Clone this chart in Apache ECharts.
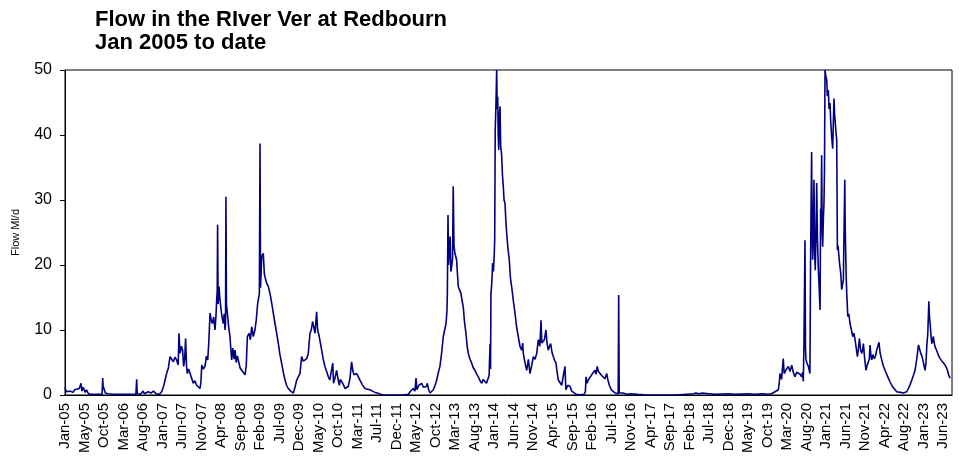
<!DOCTYPE html>
<html>
<head>
<meta charset="utf-8">
<script src="https://cdn.jsdelivr.net/npm/echarts@6/dist/echarts.min.js"></script>
<style>
  html, body { margin: 0; padding: 0; background: #fff; }
  #main { width: 960px; height: 459px; }
</style>
</head>
<body>
<div id="main"></div>
<script>
  // x = days since 1 Jan 2005, y = flow in Ml/d
  var flow2005_07 = [
    [0,1.2],[10,0.5],[25,0.3],[40,0.6],[60,0.4],[75,0.8],[90,0.5],[110,1.0],[123,1.8],[130,0.6],
    [140,1.2],[155,0.4],[165,0.8],[180,0.2],[200,0.1],[230,0.1],[260,0.1],[285,0.1],[290,2.6],[293,1.4],
    [305,1.3],[310,0.3],[330,0.2],[360,0.15],[400,0.1],[450,0.1],[500,0.1],[545,0.1],[551,2.4],[555,0.2],
    [580,0.1],[600,0.6],[610,0.2],[640,0.5],[660,0.3],[680,0.6],[700,0.2],[725,0.1],[743,0.5],[760,1.5],
    [781,3.3],[795,4.2],[807,5.9],[820,5.5],[833,5.1],[845,5.8],[858,5.4],[870,4.6],[876,9.5],[884,6.4],
    [895,7.5],[904,6.9],[912,4.4],[920,5.5],[927,8.7],[934,4.5],[940,3.3],[950,4.0],[961,3.8],[973,2.6],
    [986,1.8],[998,2.2],[1012,1.5],[1025,1.8],[1038,1.0],[1045,2.0]
  ];
  var flow2008_10 = [
    [1051,4.6],[1063,4.0],[1076,4.4],[1087,6.0],[1097,5.4],[1105,8.0],[1115,12.6],[1124,11.5],[1132,11.0],[1143,12.0],
    [1153,10.0],[1160,12.0],[1166,14.6],[1170,16.0],[1173,26.2],[1177,14.0],[1184,16.7],[1190,15.0],[1197,13.6],[1207,12.0],
    [1217,11.0],[1224,12.5],[1230,10.0],[1234,11.0],[1237,30.5],[1241,14.0],[1248,12.6],[1258,10.5],[1268,9.0],[1275,7.0],
    [1281,5.4],[1290,7.2],[1300,5.5],[1307,6.9],[1316,5.0],[1325,6.0],[1332,5.4],[1345,4.2],[1358,3.8],[1370,3.5],
    [1384,3.1],[1393,4.5],[1402,9.0],[1415,9.5],[1425,8.5],[1435,10.5],[1447,9.0],[1460,10.0],[1470,11.5],[1481,14.1],
    [1494,15.6],[1499,38.7],[1503,16.5],[1512,21.3],[1524,21.8],[1532,18.7],[1537,18.2],[1550,17.2],[1563,16.7],[1576,15.6],
    [1590,14.0],[1601,12.6],[1614,11.0],[1627,9.5],[1640,7.9],[1652,6.2],[1665,4.9],[1678,3.5],[1691,2.3],[1703,1.5],
    [1716,1.0],[1735,0.6],[1755,0.3],[1768,1.2],[1781,2.3],[1793,2.8],[1806,3.3],[1819,5.9],[1832,5.2],[1845,5.4],
    [1858,5.6],[1870,6.4],[1883,9.5],[1893,10.0],[1903,11.3],[1912,10.5],[1922,9.5],[1934,12.8],[1942,10.0],[1952,9.2],
    [1963,8.0],[1973,6.9],[1985,5.5],[1998,4.4],[2011,3.6],[2024,2.8],[2035,2.3],[2042,2.1],[2050,2.6],[2058,4.9],
    [2064,1.8],[2075,2.6],[2088,3.8],[2098,2.5],[2109,1.5],[2117,2.4],[2126,2.3],[2140,1.6],[2152,1.0],[2165,1.3],
    [2177,1.3],[2190,2.5],[2203,5.1],[2212,3.8],[2221,3.1],[2232,3.4],[2242,3.3],[2255,2.8],[2267,2.3],[2285,1.6],
    [2306,1.0],[2325,0.9],[2344,0.8],[2363,0.6],[2383,0.4],[2400,0.3],[2421,0.15],[2440,0.05],[2500,0],[2600,0]
  ];
  var flow2012_16 = [
    [2640,0.1],[2652,0.5],[2665,0.4],[2677,1.0],[2690,0.6],[2698,2.6],[2705,0.8],[2720,1.5],[2730,1.2],[2742,1.8],
    [2755,1.2],[2767,1.0],[2778,1.3],[2785,1.8],[2795,0.8],[2806,0.3],[2818,0.6],[2831,0.8],[2845,1.5],[2857,2.3],
    [2870,3.5],[2882,4.4],[2895,6.5],[2908,9.0],[2918,10.0],[2929,11.0],[2936,13.0],[2939,15.6],[2944,27.7],[2948,20.0],
    [2954,20.3],[2960,24.4],[2966,19.0],[2972,19.7],[2979,21.0],[2984,32.1],[2990,23.0],[2997,21.8],[3004,22.0],[3010,20.8],
    [3017,18.5],[3023,16.7],[3033,17.0],[3044,15.6],[3052,14.5],[3061,13.6],[3072,11.0],[3082,9.5],[3091,7.5],[3100,6.4],
    [3113,5.5],[3126,4.9],[3138,4.2],[3151,3.8],[3165,3.2],[3177,2.8],[3190,2.2],[3203,1.8],[3215,2.4],[3228,2.3],
    [3240,1.8],[3254,2.1],[3260,3.0],[3267,7.9],[3271,4.0],[3274,15.6],[3280,17.0],[3287,20.3],[3293,19.0],[3299,21.3],
    [3303,24.0],[3307,40.8],[3313,45.0],[3318,50.0],[3322,44.0],[3326,45.9],[3330,40.0],[3334,37.7],[3339,43.0],[3344,44.4],
    [3349,38.2],[3356,37.0],[3362,34.0],[3369,32.1],[3375,30.0],[3382,29.5],[3388,27.0],[3395,24.9],[3405,22.5],[3415,20.8],
    [3424,18.0],[3433,16.7],[3446,14.5],[3459,12.6],[3471,10.5],[3484,9.0],[3497,7.5],[3510,6.9],[3518,8.0],[3523,6.4],
    [3536,4.9],[3549,3.8],[3554,3.6],[3562,5.5],[3574,3.3],[3587,4.5],[3600,5.9],[3613,5.5],[3626,6.4],[3638,8.5],
    [3650,7.5],[3659,11.5],[3665,8.0],[3672,7.9],[3685,8.5],[3697,10.0],[3705,8.0],[3715,6.9],[3724,7.5],[3733,7.9],
    [3744,6.5],[3754,5.9],[3764,5.3],[3774,4.9],[3783,3.5],[3792,2.3],[3805,2.0],[3818,1.5],[3830,1.2],[3843,4.4],
    [3850,0.8],[3865,1.5],[3882,1.3],[3895,0.6],[3907,0.3],[3930,0.1],[3960,0.05],[3990,0.1],[4000,0.5],[4005,2.8],
    [4012,1.8],[4022,2.3],[4035,2.6],[4048,3.1],[4060,2.8],[4074,3.8],[4082,3.2],[4091,4.4],[4100,3.6],[4112,3.3],
    [4125,3.0],[4138,2.8],[4150,2.5],[4164,3.3],[4172,2.4],[4184,1.5],[4200,0.8],[4215,0.5],[4230,0.3],[4243,0.2],
    [4252,0.2],[4256,15.4],[4260,0.3],[4266,0.2],[4290,0.3],[4320,0.1],[4350,0.2],[4400,0.1],[4450,0.05],[4550,0]
  ];
  var flow2017_20 = [
    [4700,0],[4830,0.2],[4850,0.3],[4870,0.2],[4900,0.3],[4950,0.2],[5000,0.1],[5100,0.2],[5150,0.1],[5250,0.2],
    [5300,0.1],[5365,0.2],[5400,0.1],[5431,0.2],[5457,0.5],[5470,0.6],[5483,0.8],[5490,1.8],[5496,3.3],[5508,2.4],
    [5521,5.6],[5528,3.3],[5540,3.8],[5550,3.5],[5560,4.4],[5573,3.6],[5586,4.6],[5598,3.5],[5611,2.8],[5624,3.5],
    [5637,3.6],[5650,3.2],[5662,2.8],[5670,3.5],[5675,2.1],[5680,7.9],[5688,23.8],[5692,7.0],[5696,5.4],[5705,4.8],
    [5714,4.4],[5726,3.3]
  ];
  var flow2021_23 = [
    [5731,21.0],[5739,37.4],[5743,25.0],[5747,20.8],[5752,26.0],[5757,33.1],[5762,22.0],[5767,19.2],[5772,24.0],[5778,32.6],
    [5784,24.0],[5791,19.2],[5798,16.0],[5804,13.1],[5808,28.7],[5812,26.0],[5816,36.9],[5820,25.0],[5824,22.8],[5829,27.0],
    [5834,29.5],[5838,35.0],[5842,50.0],[5848,49.0],[5855,48.5],[5860,46.0],[5867,46.9],[5873,44.0],[5880,44.9],[5886,42.0],
    [5893,39.7],[5901,37.9],[5906,42.0],[5911,45.6],[5916,43.0],[5921,41.8],[5926,40.5],[5932,39.2],[5937,22.3],[5942,23.0],
    [5947,21.8],[5955,20.0],[5963,18.7],[5970,16.2],[5976,16.5],[5983,17.7],[5988,25.0],[5994,33.1],[5997,26.0],[6001,21.8],
    [6005,18.0],[6009,15.6],[6017,12.1],[6025,12.5],[6034,11.0],[6045,10.0],[6055,9.0],[6064,9.5],[6073,8.5],[6082,7.2],
    [6091,5.9],[6098,7.0],[6106,8.7],[6115,7.0],[6125,6.4],[6130,6.8],[6137,7.9],[6147,5.5],[6157,3.8],[6165,4.5],
    [6175,4.4],[6182,5.5],[6188,7.7],[6195,6.0],[6201,5.4],[6210,6.2],[6221,5.6],[6230,6.0],[6239,6.9],[6248,7.5],
    [6257,8.1],[6265,6.5],[6278,5.4],[6290,4.5],[6303,3.8],[6316,3.2],[6329,2.6],[6342,2.0],[6355,1.5],[6368,1.1],
    [6380,0.8],[6393,0.5],[6406,0.3],[6420,0.4],[6432,0.5],[6445,0.3],[6457,0.2],[6470,0.5],[6483,1.0],[6496,1.6],
    [6509,2.3],[6521,3.0],[6534,3.8],[6547,5.5],[6560,7.7],[6570,7.0],[6578,6.4],[6586,6.0],[6594,5.4],[6603,4.5],
    [6611,3.8],[6618,5.0],[6624,7.4],[6632,9.5],[6640,14.4],[6645,12.0],[6650,11.0],[6657,9.0],[6663,7.9],[6669,8.5],
    [6675,9.0],[6681,8.0],[6688,7.4],[6697,7.0],[6706,6.7],[6716,6.0],[6727,5.6],[6736,5.3],[6745,5.1],[6755,5.4],
    [6765,4.6],[6775,4.2],[6783,3.8],[6793,3.0],[6804,2.6]
  ];

  // one label every 150 days, as on the original chart
  var tickLabels = ['Jan-05','May-05','Oct-05','Mar-06','Aug-06','Jan-07','Jun-07','Nov-07','Apr-08','Sep-08',
    'Feb-09','Jul-09','Dec-09','May-10','Oct-10','Mar-11','Jul-11','Dec-11','May-12','Oct-12',
    'Mar-13','Aug-13','Jan-14','Jun-14','Nov-14','Apr-15','Sep-15','Feb-16','Jul-16','Nov-16',
    'Apr-17','Sep-17','Feb-18','Jul-18','Dec-18','May-19','Oct-19','Mar-20','Aug-20','Jan-21',
    'Jun-21','Nov-21','Apr-22','Aug-22','Jan-23','Jun-23'];
  var tickStep = 150;
  var lastDay = 6818;

  var flowData = [].concat(flow2005_07, flow2008_10, flow2012_16, flow2017_20, flow2021_23);

  var chart = echarts.init(document.getElementById('main'));
  chart.setOption({
    animation: false,
    title: {
      text: 'Flow in the RIver Ver at Redbourn\nJan 2005 to date',
      left: 90,
      top: 3,
      textStyle: {
        fontFamily: 'Liberation Sans',
        fontSize: 22,
        fontWeight: 'bold',
        color: '#000',
        lineHeight: 23
      }
    },
    grid: {
      left: 65, right: 8, top: 70, bottom: 64,
      show: true, borderColor: '#000', borderWidth: 1
    },
    xAxis: {
      type: 'value',
      min: 0,
      max: lastDay,
      interval: tickStep,
      axisLine: { lineStyle: { color: '#000', width: 1 } },
      axisTick: { show: false },
      splitLine: { show: false },
      axisLabel: {
        rotate: 90,
        margin: 8,
        fontFamily: 'Liberation Sans',
        fontSize: 15,
        color: '#000',
        showMaxLabel: false,
        formatter: function (v) {
          var i = Math.round(v / tickStep);
          if (Math.abs(v - i * tickStep) > 0.5) return '';
          return tickLabels[i] || '';
        }
      }
    },
    yAxis: {
      type: 'value',
      min: 0,
      max: 50,
      interval: 10,
      name: 'Flow Ml/d',
      nameLocation: 'middle',
      nameGap: 44,
      nameTextStyle: { fontFamily: 'Liberation Sans', fontSize: 11, color: '#000' },
      axisLine: { show: true, lineStyle: { color: '#000', width: 1 } },
      axisTick: { show: true, length: 5, lineStyle: { color: '#000' } },
      splitLine: { show: false },
      axisLabel: { margin: 13, fontFamily: 'Liberation Sans', fontSize: 16, color: '#000' }
    },
    series: [{
      type: 'line',
      data: flowData,
      showSymbol: false,
      clip: true,
      lineStyle: { color: '#000080', width: 1.6 }
    }]
  });
</script>
</body>
</html>
